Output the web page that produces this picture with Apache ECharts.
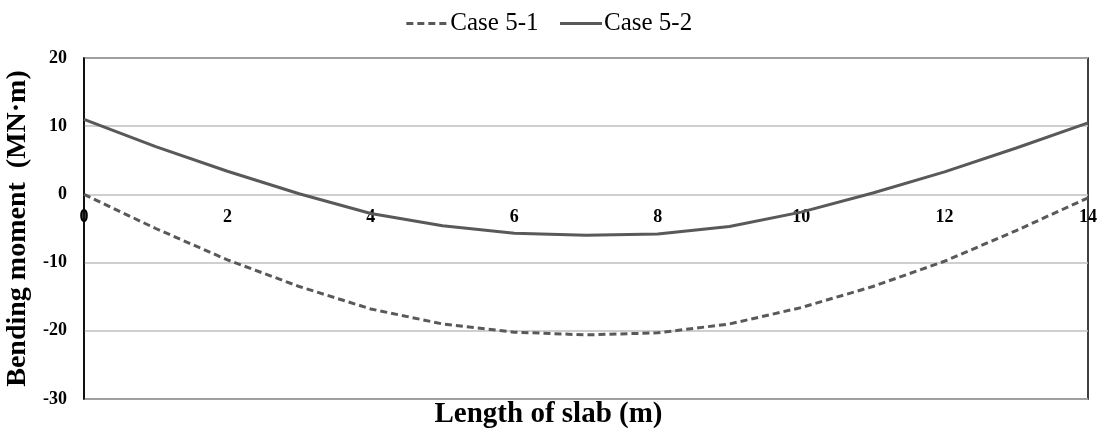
<!DOCTYPE html>
<html><head><meta charset="utf-8">
<script src="https://cdn.jsdelivr.net/npm/echarts@6/dist/echarts.min.js"></script>
<style>html,body{margin:0;padding:0;background:#fff}#c{width:1097px;height:434px}</style>
</head><body><div id="c"></div>
<script>
const xValues = [0,1,2,3,4,5,6,7,8,9,10,11,12,13,14];
const case51 = [0,-5,-9.6,-13.5,-16.8,-19.0,-20.2,-20.6,-20.3,-19.0,-16.6,-13.5,-9.8,-5.3,-0.5];
const case52 = [11,7,3.4,0.1,-2.8,-4.6,-5.7,-6.0,-5.8,-4.7,-2.6,0.2,3.3,6.8,10.5];
const seriesNames = ['Case 5-1','Case 5-2'];
const xName = 'Length of slab (m)';
const yName = 'Bending moment  (MN·m)';
const font = '"Liberation Serif", "Times New Roman", serif';
const chart = echarts.init(document.getElementById('c'));
chart.setOption({
  animation:false,
  title:{text:xName,left:'center',top:400,padding:0,textStyle:{fontFamily:font,fontWeight:'bold',fontSize:29,color:'#000'}},
  legend:{top:6,left:'center',itemWidth:42,itemHeight:10,itemGap:20,
    itemStyle:{opacity:0},lineStyle:{width:3},
    textStyle:{fontFamily:font,fontSize:25,color:'#000',padding:[0,0,0,-3]},
    data:seriesNames},
  grid:{left:84,right:9,top:58,bottom:35,show:true,borderColor:'#000',borderWidth:1.5,
    containLabel:false,outerBoundsMode:'none'},
  xAxis:{type:'value',min:0,max:14,interval:2,offset:-204,
    axisLine:{show:false,onZero:false},axisTick:{show:false},splitLine:{show:false},
    axisLabel:{margin:13,fontFamily:font,fontWeight:'bold',fontSize:18,color:'#000'}},
  yAxis:{type:'value',min:-30,max:20,interval:10,name:yName,nameLocation:'middle',nameGap:41,
    nameTextStyle:{fontFamily:font,fontWeight:'bold',fontSize:28,color:'#000'},
    axisLine:{show:true,lineStyle:{color:'#000',width:1.5}},axisTick:{show:false},
    splitLine:{lineStyle:{color:'#bfbfbf',width:1.5}},
    axisLabel:{margin:17,fontFamily:font,fontWeight:'bold',fontSize:18,color:'#000'}},
  series:[
    {name:seriesNames[0],type:'line',symbol:'none',smooth:false,
     data:xValues.map((x,i)=>[x,case51[i]]),
     lineStyle:{color:'#595959',width:3,type:[7,4]},itemStyle:{color:'#595959'}},
    {name:seriesNames[1],type:'line',symbol:'none',smooth:false,
     data:xValues.map((x,i)=>[x,case52[i]]),
     lineStyle:{color:'#595959',width:3},itemStyle:{color:'#595959'}}
  ]
});
</script></body></html>
